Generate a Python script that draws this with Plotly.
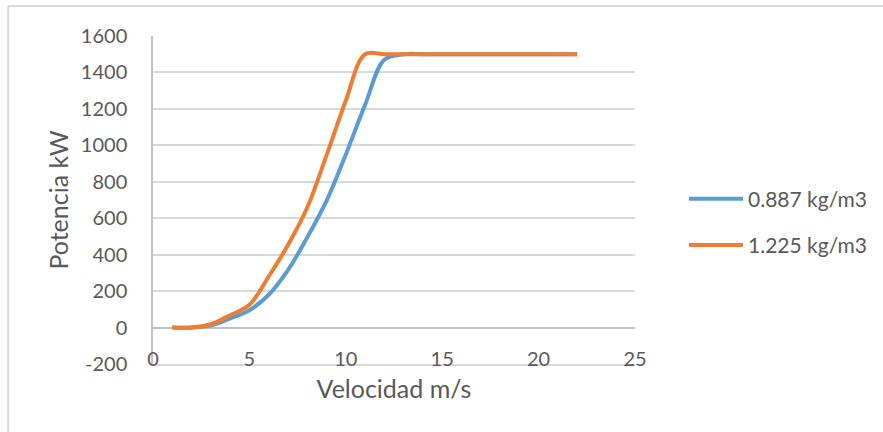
import plotly.graph_objects as go

# Wind speed (m/s) and turbine power output (kW) for two air densities
velocidad = [1, 2, 3, 4, 5, 6, 7, 8, 9, 10, 11, 12, 13, 14, 15, 16, 17, 18, 19, 20, 21, 22]
potencia_0887 = [0, 0, 12, 50, 95, 180, 315, 495, 695, 950, 1222, 1470,
                 1500, 1500, 1500, 1500, 1500, 1500, 1500, 1500, 1500, 1500]
potencia_1225 = [0, 0, 18, 68, 125, 280, 453, 659, 945, 1245, 1500, 1500,
                 1500, 1500, 1500, 1500, 1500, 1500, 1500, 1500, 1500, 1500]

serie_nombres = ["0.887 kg/m3", "1.225 kg/m3"]
serie_colores = ["#5B9BD5", "#ED7D31"]

x_ticks = [0, 5, 10, 15, 20, 25]
y_ticks = [-200, 0, 200, 400, 600, 800, 1000, 1200, 1400, 1600]
y_tick_text = ["-200", "0", "200", "400", "600", "800", "1000", "1200", "1400", "1600"]

FONT = "Lato, 'Open Sans', sans-serif"
TEXT = "#595959"

fig = go.Figure()
for nombre, color, valores in zip(serie_nombres, serie_colores,
                                  [potencia_0887, potencia_1225]):
    fig.add_trace(go.Scatter(
        x=velocidad, y=valores, name=nombre, mode="lines",
        line=dict(color=color, width=4, shape="spline", smoothing=1),
        legendgroup=nombre,
    ))

# Outer chart frame (left and top edges)
fig.add_shape(type="path", xref="paper", yref="paper",
              path="M -0.3002,-0.4 L -0.3002,1.0915 L 1.7,1.0915",
              line=dict(color="#d9d9d9", width=2), layer="below")

fig.update_layout(
    width=883, height=432,
    margin=dict(l=153, r=247, t=36, b=68, pad=0),
    paper_bgcolor="white", plot_bgcolor="white",
    font=dict(family=FONT, color=TEXT, size=20),
    showlegend=True,
    legend=dict(
        x=(684 - 153) / 483, xanchor="left",
        y=(364 - 222) / 328, yanchor="middle",
        font=dict(size=21, color=TEXT),
        itemwidth=54, tracegroupgap=16,
        bgcolor="rgba(0,0,0,0)",
    ),
    xaxis=dict(
        range=[0, 25], tickvals=x_ticks, showgrid=False, zeroline=False,
        showline=True, linecolor="#d9d9d9", linewidth=1.5,
        ticks="", ticklabelposition="outside", ticklabelstandoff=-24,
        tickfont=dict(size=20, color=TEXT),
        title=dict(text="Velocidad m/s", font=dict(size=25, color=TEXT), standoff=12),
        automargin=False,
    ),
    yaxis=dict(
        range=[-200, 1600], tickvals=y_ticks, ticktext=y_tick_text, showgrid=True,
        gridcolor="#d9d9d9", gridwidth=1.5,
        zeroline=True, zerolinecolor="#bfbfbf", zerolinewidth=1.5,
        showline=True, linecolor="#bfbfbf", linewidth=1.5,
        ticks="", ticklabelstandoff=20,
        tickfont=dict(size=20, color=TEXT),
        title=dict(text="Potencia kW", font=dict(size=25, color=TEXT), standoff=5),
        automargin=False,
    ),
)

fig.write_html("out.html")
